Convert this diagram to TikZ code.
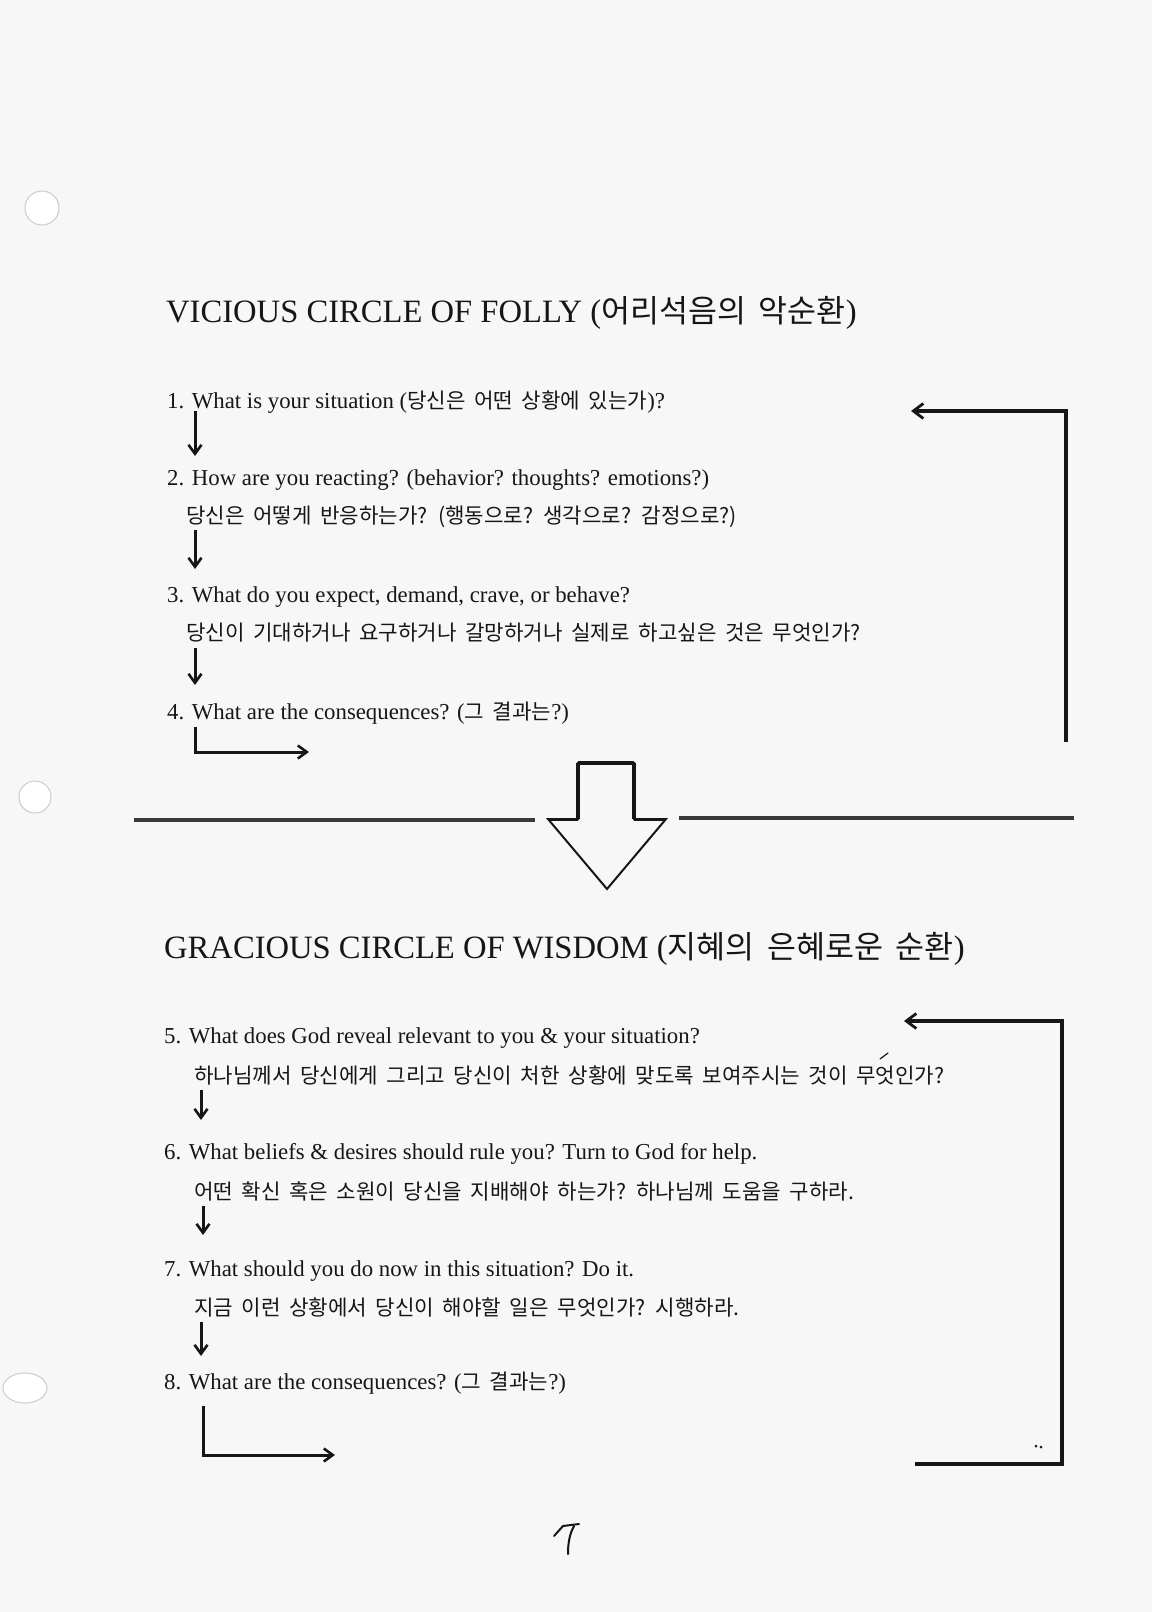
\documentclass[tikz,border=0pt]{standalone}
\usepackage{fontspec}
\setmainfont{Liberation Serif}
\newfontfamily\kor[WordSpace=1.8]{Noto Sans CJK KR}
\usetikzlibrary{arrows.meta}
\definecolor{ink}{HTML}{161616}
\definecolor{paper}{HTML}{F7F7F7}
\newcommand\korp[1]{{\kor\fontsize{21.2}{25}\selectfont #1}}
\newcommand\kort[1]{{\kor\fontsize{31.5}{36}\selectfont #1}}
\begin{document}
\begin{tikzpicture}[x=1pt,y=-1pt,
  txt/.style={anchor=base west,inner sep=0pt,font=\fontsize{22.8}{26}\selectfont,text=ink},
  kortxt/.style={anchor=base west,inner sep=0pt,font=\kor\fontsize{21.2}{25}\selectfont,text=ink},
  ttl/.style={anchor=base west,inner sep=0pt,font=\fontsize{32.6}{36}\selectfont,text=ink},
  flow/.style={line width=3pt,draw=ink,-{Straight Barb[length=9pt,width=13pt,line width=2.6pt]}},
  loopline/.style={line width=3.3pt,draw=ink,-{Straight Barb[length=10pt,width=15pt,line width=2.8pt]}},
  divider/.style={line width=3.8pt,draw=ink!85},
  hole/.style={draw=gray!40,line width=1pt,fill=white},
  hand/.style={draw=ink,line width=2pt,line cap=round}]
\fill[paper] (0,0) rectangle (1152,1612);
\useasboundingbox (0,0) rectangle (1152,1612);

% punch holes
\draw[hole] (42,208) circle (17);
\draw[hole] (35,797) circle (16);
\draw[hole] (25,1388) ellipse (22 and 15);

% ---------- Vicious circle ----------
\node[ttl] (t1) at (166,322) {VICIOUS CIRCLE OF FOLLY (\kort{어리석음의 악순환})};

\node[txt] (i1) at (167,408) {1. What is your situation (\korp{당신은 어떤 상황에 있는가})?};
\node[txt] (i2) at (167,485) {2. How are you reacting? (behavior? thoughts? emotions?)};
\node[kortxt] (k2) at (186,523) {당신은 어떻게 반응하는가? (행동으로? 생각으로? 감정으로?)};
\node[txt] (i3) at (167,602) {3. What do you expect, demand, crave, or behave?};
\node[kortxt] (k3) at (186,640) {당신이 기대하거나 요구하거나 갈망하거나 실제로 하고싶은 것은 무엇인가?};
\node[txt] (i4) at (167,719) {4. What are the consequences? (\korp{그 결과는}?)};

\coordinate (a1s) at (195,411); \coordinate (a1e) at (195,456);
\coordinate (a2s) at (195,530); \coordinate (a2e) at (195,569);
\coordinate (a3s) at (195,648); \coordinate (a3e) at (195,685);
\coordinate (a4s) at (195,727); \coordinate (a4e) at (309,752);
\draw[flow] (a1s) -- (a1e);
\draw[flow] (a2s) -- (a2e);
\draw[flow] (a3s) -- (a3e);
\draw[flow] (a4s) |- (a4e);

\coordinate (r1a) at (1066,742);
\coordinate (r1b) at (1066,411);
\coordinate (r1c) at (911,411);
\draw[loopline] (r1a) -- (r1b) -- (r1c);

% ---------- divider with big arrow ----------
\coordinate (dl1) at (134,820); \coordinate (dl2) at (535,820);
\coordinate (dr1) at (679,818); \coordinate (dr2) at (1074,818);
\draw[divider] (dl1) -- (dl2);
\draw[divider] (dr1) -- (dr2);
\draw[draw=ink,line width=2pt,line join=miter,fill=paper]
  (578,763) -- (634,763) -- (634,819) -- (666,819) -- (607,889) -- (548,819) -- (578,819) -- cycle;
\draw[draw=ink,line width=3.4pt] (578,763) -- (578,819) (634,763) -- (634,819) (578,763) -- (634,763);
\draw[draw=ink,line width=3pt] (548,819) -- (578,819) (634,819) -- (666,819);

% ---------- Gracious circle ----------
\node[ttl] (t2) at (164,958) {GRACIOUS CIRCLE OF WISDOM (\kort{지혜의 은혜로운 순환})};

\node[txt] (i5) at (164,1043) {5. What does God reveal relevant to you \& your situation?};
\node[kortxt] (k5) at (194,1083) {하나님께서 당신에게 그리고 당신이 처한 상황에 맞도록 보여주시는 것이 무엇인가?};
\node[txt] (i6) at (164,1159) {6. What beliefs \& desires should rule you? Turn to God for help.};
\node[kortxt] (k6) at (194,1199) {어떤 확신 혹은 소원이 당신을 지배해야 하는가? 하나님께 도움을 구하라.};
\node[txt] (i7) at (164,1276) {7. What should you do now in this situation? Do it.};
\node[kortxt] (k7) at (194,1315) {지금 이런 상황에서 당신이 해야할 일은 무엇인가? 시행하라.};
\node[txt] (i8) at (164,1389) {8. What are the consequences? (\korp{그 결과는}?)};

\coordinate (a5s) at (201,1090); \coordinate (a5e) at (201,1120);
\coordinate (a6s) at (203,1206); \coordinate (a6e) at (203,1235);
\coordinate (a7s) at (201,1322); \coordinate (a7e) at (201,1356);
\coordinate (a8s) at (203,1406); \coordinate (a8e) at (335,1455);
\draw[flow] (a5s) -- (a5e);
\draw[flow] (a6s) -- (a6e);
\draw[flow] (a7s) -- (a7e);
\draw[flow] (a8s) |- (a8e);

\coordinate (r2a) at (915,1464);
\coordinate (r2b) at (1062,1464);
\coordinate (r2c) at (1062,1021);
\coordinate (r2d) at (904,1021);
\draw[loopline] (r2a) -- (r2b) -- (r2c) -- (r2d);

% small marks
\draw[hand,line width=1.2pt] (880,1059) -- (888,1053);
\fill[ink] (1036,1446) circle (1.5) (1041,1447) circle (1.5);

% handwritten page number
\draw[hand] (554,1536) -- (563,1526) -- (579,1524);
\draw[hand] (574,1526) .. controls (569,1535) and (568,1545) .. (568,1554);
\end{tikzpicture}
\end{document}
